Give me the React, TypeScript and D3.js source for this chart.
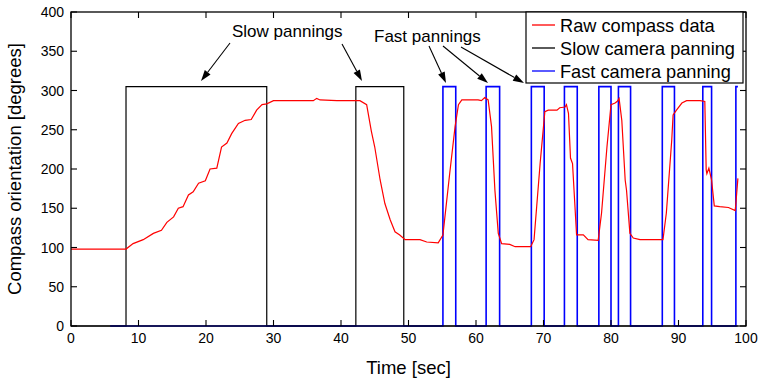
import React from "react";
import * as d3 from "d3";

// Raw compass data (time in sec, orientation in degrees)
const compassTime = [
  0, 8.15, 9.2, 10.7, 12.2, 13.4, 14.2, 15.2, 15.9, 16.6, 17.4, 18.1, 18.9, 19.9, 20.6, 21.6,
  22.3, 23.1, 23.8, 24.8, 25.8, 26.7, 27.5, 28.3, 29.0, 30.0, 35.9, 36.4, 36.9, 39.4, 42.8,
  43.8, 44.5, 45.0, 45.8, 46.5, 47.3, 48.0, 48.7, 49.5, 51.7, 52.7, 54.4, 55.1, 56.1, 56.9,
  57.4, 57.9, 60.3, 60.8, 61.3, 61.8, 62.3, 62.8, 63.3, 63.8, 65.0, 65.8, 68.1, 68.6, 69.5,
  70.2, 70.7, 72.0, 72.4, 73.2, 73.4, 73.7, 74.0, 74.3, 74.9, 75.9, 76.6, 78.1, 78.6, 79.4,
  80.0, 80.6, 80.9, 81.2, 81.6, 82.1, 82.3, 82.8, 83.3, 84.3, 85.8, 87.7, 88.2, 89.0, 89.2,
  89.7, 90.5, 91.2, 92.2, 93.2, 93.9, 94.1, 94.2, 94.5, 94.9, 95.3, 96.1, 97.4, 98.4, 98.5, 98.8,
];
const compassDeg = [
  98, 98, 105, 110, 118, 122, 132, 139, 150, 152, 167, 171, 182, 185, 200, 201,
  228, 233, 245, 258, 262, 263, 275, 282, 283, 287, 287, 290, 288, 287, 287,
  282, 248, 228, 186, 156, 135, 120, 116, 110, 110, 107, 106, 116, 194, 254,
  282, 288, 288, 287, 291, 288, 254, 173, 118, 105, 104, 101, 101, 110, 207,
  273, 275, 275, 278, 279, 282, 271, 214, 207, 116, 116, 110, 109, 144, 228,
  282, 284, 286, 290, 262, 186, 173, 118, 112, 110, 110, 110, 144, 237, 269,
  275, 284, 287, 287, 287, 286, 199, 194, 201, 186, 153, 152, 151, 147, 156, 188,
];

// Slow camera panning (square wave)
const slowTime = [0, 8.15, 8.15, 29.0, 29.0, 42.2, 42.2, 49.3, 49.3, 98.8];
const slowDeg = [0, 0, 305, 305, 0, 0, 305, 305, 0, 0];

// Fast camera panning (square wave)
const fastTime = [
  5.8, 55.1, 55.1, 57.0, 57.0, 61.5, 61.5, 63.5, 63.5, 68.2, 68.2, 70.1, 70.1,
  73.1, 73.1, 75.0, 75.0, 78.2, 78.2, 80.0, 80.0, 81.1, 81.1, 82.9, 82.9,
  87.6, 87.6, 89.4, 89.4, 93.6, 93.6, 94.9, 94.9, 98.5, 98.5, 98.8,
];
const fastDeg = [
  0, 0, 305, 305, 0, 0, 305, 305, 0, 0, 305, 305, 0,
  0, 305, 305, 0, 0, 305, 305, 0, 0, 305, 305, 0,
  0, 305, 305, 0, 0, 305, 305, 0, 0, 305, 305,
];

const xTicks = [0, 10, 20, 30, 40, 50, 60, 70, 80, 90, 100];
const yTicks = [0, 50, 100, 150, 200, 250, 300, 350, 400];

const legendLabels = ["Raw compass data", "Slow camera panning", "Fast camera panning"];
const legendColors = ["#ff0000", "#000000", "#0000ff"];

const W = 762;
const H = 380;
const L = 71, R = 746, T = 12, B = 326;
const FONT = "'Liberation Sans', Arial, Helvetica, sans-serif";

export default function App() {
  const x = d3.scaleLinear().domain([0, 100]).range([L, R]);
  const y = d3.scaleLinear().domain([0, 400]).range([B, T]);
  const line = d3
    .line<[number, number]>()
    .x((d) => x(d[0]))
    .y((d) => y(d[1]));
  const zip = (a: number[], b: number[]) => a.map((t, i) => [t, b[i]] as [number, number]);

  const tick = 6;

  const arrow = (x1: number, y1: number, x2: number, y2: number, key: string) => {
    const ang = Math.atan2(y2 - y1, x2 - x1);
    const len = 11, half = 3.6;
    const bx = x2 - len * Math.cos(ang), by = y2 - len * Math.sin(ang);
    const px = -Math.sin(ang) * half, py = Math.cos(ang) * half;
    return (
      <g key={key}>
        <line x1={x1} y1={y1} x2={bx} y2={by} stroke="#000" strokeWidth={1.1} />
        <polygon points={`${x2},${y2} ${bx + px},${by + py} ${bx - px},${by - py}`} fill="#000" />
      </g>
    );
  };

  return (
    <svg
      width={W}
      height={H}
      style={{ position: "absolute", left: 0, top: 0, background: "#fff" }}
      fontFamily={FONT}
    >
      <rect x={0} y={0} width={W} height={H} fill="#fff" />
      {/* data */}
      <path d={line(zip(slowTime, slowDeg)) || ""} fill="none" stroke="#000" strokeWidth={1.2} />
      <path d={line(zip(fastTime, fastDeg)) || ""} fill="none" stroke="#0000ff" strokeWidth={1.6} />
      <path d={line(zip(compassTime, compassDeg)) || ""} fill="none" stroke="#ff0000" strokeWidth={1.2} />

      {/* frame */}
      <rect x={L} y={T} width={R - L} height={B - T} fill="none" stroke="#000" strokeWidth={1.3} />
      {xTicks.map((t) => (
        <g key={"x" + t}>
          <line x1={x(t)} x2={x(t)} y1={B} y2={B - tick} stroke="#000" strokeWidth={1.1} />
          <line x1={x(t)} x2={x(t)} y1={T} y2={T + tick} stroke="#000" strokeWidth={1.1} />
          <text x={x(t)} y={343} fontSize={14} textAnchor="middle" fill="#000">
            {t}
          </text>
        </g>
      ))}
      {yTicks.map((t) => (
        <g key={"y" + t}>
          <line x1={L} x2={L + tick} y1={y(t)} y2={y(t)} stroke="#000" strokeWidth={1.1} />
          <line x1={R} x2={R - tick} y1={y(t)} y2={y(t)} stroke="#000" strokeWidth={1.1} />
          <text x={64} y={y(t)} dy="0.36em" fontSize={14} textAnchor="end" fill="#000">
            {t}
          </text>
        </g>
      ))}

      {/* axis titles */}
      <text x={(L + R) / 2} y={374} fontSize={18.5} textAnchor="middle" fill="#000">
        Time [sec]
      </text>
      <text
        transform={`translate(21, ${(T + B) / 2}) rotate(-90)`}
        fontSize={18.5}
        textAnchor="middle"
        fill="#000"
      >
        Compass orientation [degrees]
      </text>

      {/* annotations */}
      <text x={232} y={37} fontSize={17} fill="#000">
        Slow pannings
      </text>
      <text x={374} y={42} fontSize={17} fill="#000">
        Fast pannings
      </text>
      {arrow(230, 43, 201, 81, "a1")}
      {arrow(342, 44, 362, 81, "a2")}
      {arrow(429, 46, 446, 83, "a3")}
      {arrow(443, 46, 488, 83, "a4")}
      {arrow(461, 47, 524, 83, "a5")}

      {/* legend */}
      <rect x={526} y={12} width={217} height={71} fill="#fff" stroke="#000" strokeWidth={1.2} />
      {legendLabels.map((lab, i) => {
        const cy = 25 + i * 23;
        return (
          <g key={lab}>
            <line x1={532} x2={555} y1={cy} y2={cy} stroke={legendColors[i]} strokeWidth={1.3} />
            <text x={560} y={cy + 6.5} fontSize={18.2} fill="#000">
              {lab}
            </text>
          </g>
        );
      })}
    </svg>
  );
}
